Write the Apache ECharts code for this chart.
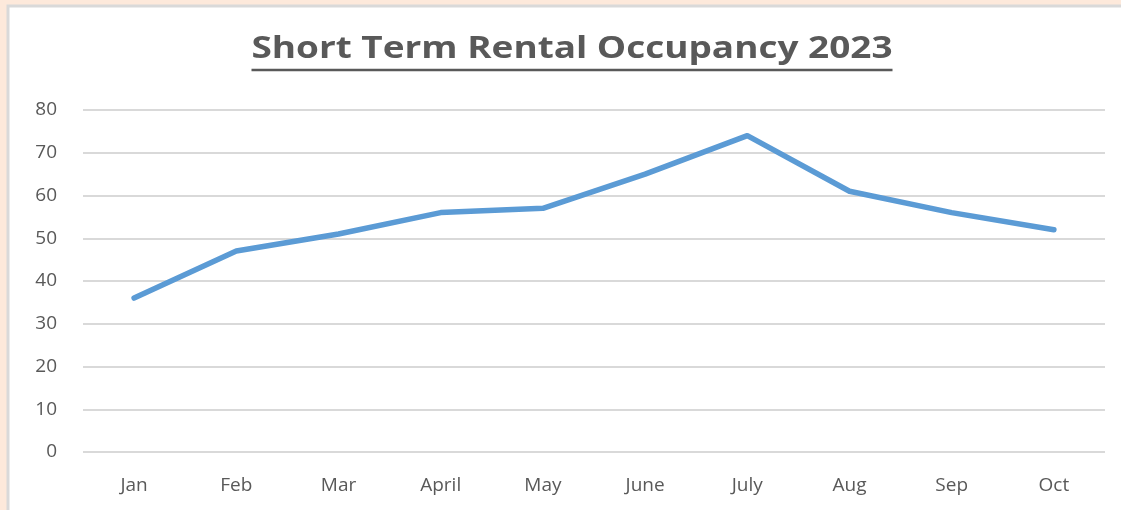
<!DOCTYPE html>
<html>
<head>
<meta charset="utf-8">
<script src="https://cdn.jsdelivr.net/npm/echarts@6/dist/echarts.min.js"></script>
<style>
  html, body { margin: 0; padding: 0; }
  #main { width: 1121px; height: 510px; }
</style>
</head>
<body>
<div id="main"></div>
<script>
var months = ['Jan', 'Feb', 'Mar', 'April', 'May', 'June', 'July', 'Aug', 'Sep', 'Oct'];
var occupancy = [36, 47, 51, 56, 57, 65, 74, 61, 56, 52];
var yTicks = [0, 10, 20, 30, 40, 50, 60, 70, 80];

var chart = echarts.init(document.getElementById('main'));
var titleText = 'Short Term Rental Occupancy 2023';
var labelFont = '"Open Sans", sans-serif';
var titleFont = 'bold 30px "Open Sans", sans-serif';

// the original title is set in a narrow face; stretch ours to the same width
var titleW = echarts.format.getTextRect
    ? echarts.format.getTextRect(titleText, titleFont).width
    : 550;
var titleTarget = 641;
var titleScale = titleTarget / titleW;
var titleX = 572;

var option = {
    backgroundColor: '#fde9db',
    animation: false,
    graphic: [
        {
            type: 'rect',
            z: -10,
            shape: { x: 8, y: 6, width: 1200, height: 600 },
            style: { fill: '#ffffff', stroke: '#d9d9d9', lineWidth: 3 }
        },
        {
            type: 'text',
            x: titleX,
            y: 34,
            scaleX: titleScale,
            style: {
                text: titleText,
                font: titleFont,
                fill: '#595959',
                align: 'center',
                verticalAlign: 'top'
            }
        },
        {
            type: 'line',
            shape: { x1: titleX - titleTarget / 2, y1: 70, x2: titleX + titleTarget / 2, y2: 70 },
            style: { stroke: '#595959', lineWidth: 2.5 }
        }
    ],
    grid: {
        left: 83,
        right: 16,
        top: 110,
        bottom: 58
    },
    xAxis: {
        type: 'category',
        data: months,
        boundaryGap: true,
        axisLine: { show: false },
        axisTick: { show: false },
        axisLabel: {
            margin: 24,
            fontFamily: labelFont,
            fontSize: 19,
            color: '#595959'
        }
    },
    yAxis: {
        type: 'value',
        min: yTicks[0],
        max: yTicks[yTicks.length - 1],
        interval: 10,
        axisLine: { show: false },
        axisTick: { show: false },
        axisLabel: {
            margin: 26,
            fontFamily: labelFont,
            fontSize: 19,
            color: '#595959'
        },
        splitLine: { lineStyle: { color: '#d9d9d9', width: 2 } }
    },
    series: [
        {
            name: 'Occupancy',
            type: 'line',
            data: occupancy,
            showSymbol: false,
            symbol: 'none',
            lineStyle: { color: '#5b9bd5', width: 5.5, cap: 'round', join: 'round' }
        }
    ]
};

chart.setOption(option);
</script>
</body>
</html>
